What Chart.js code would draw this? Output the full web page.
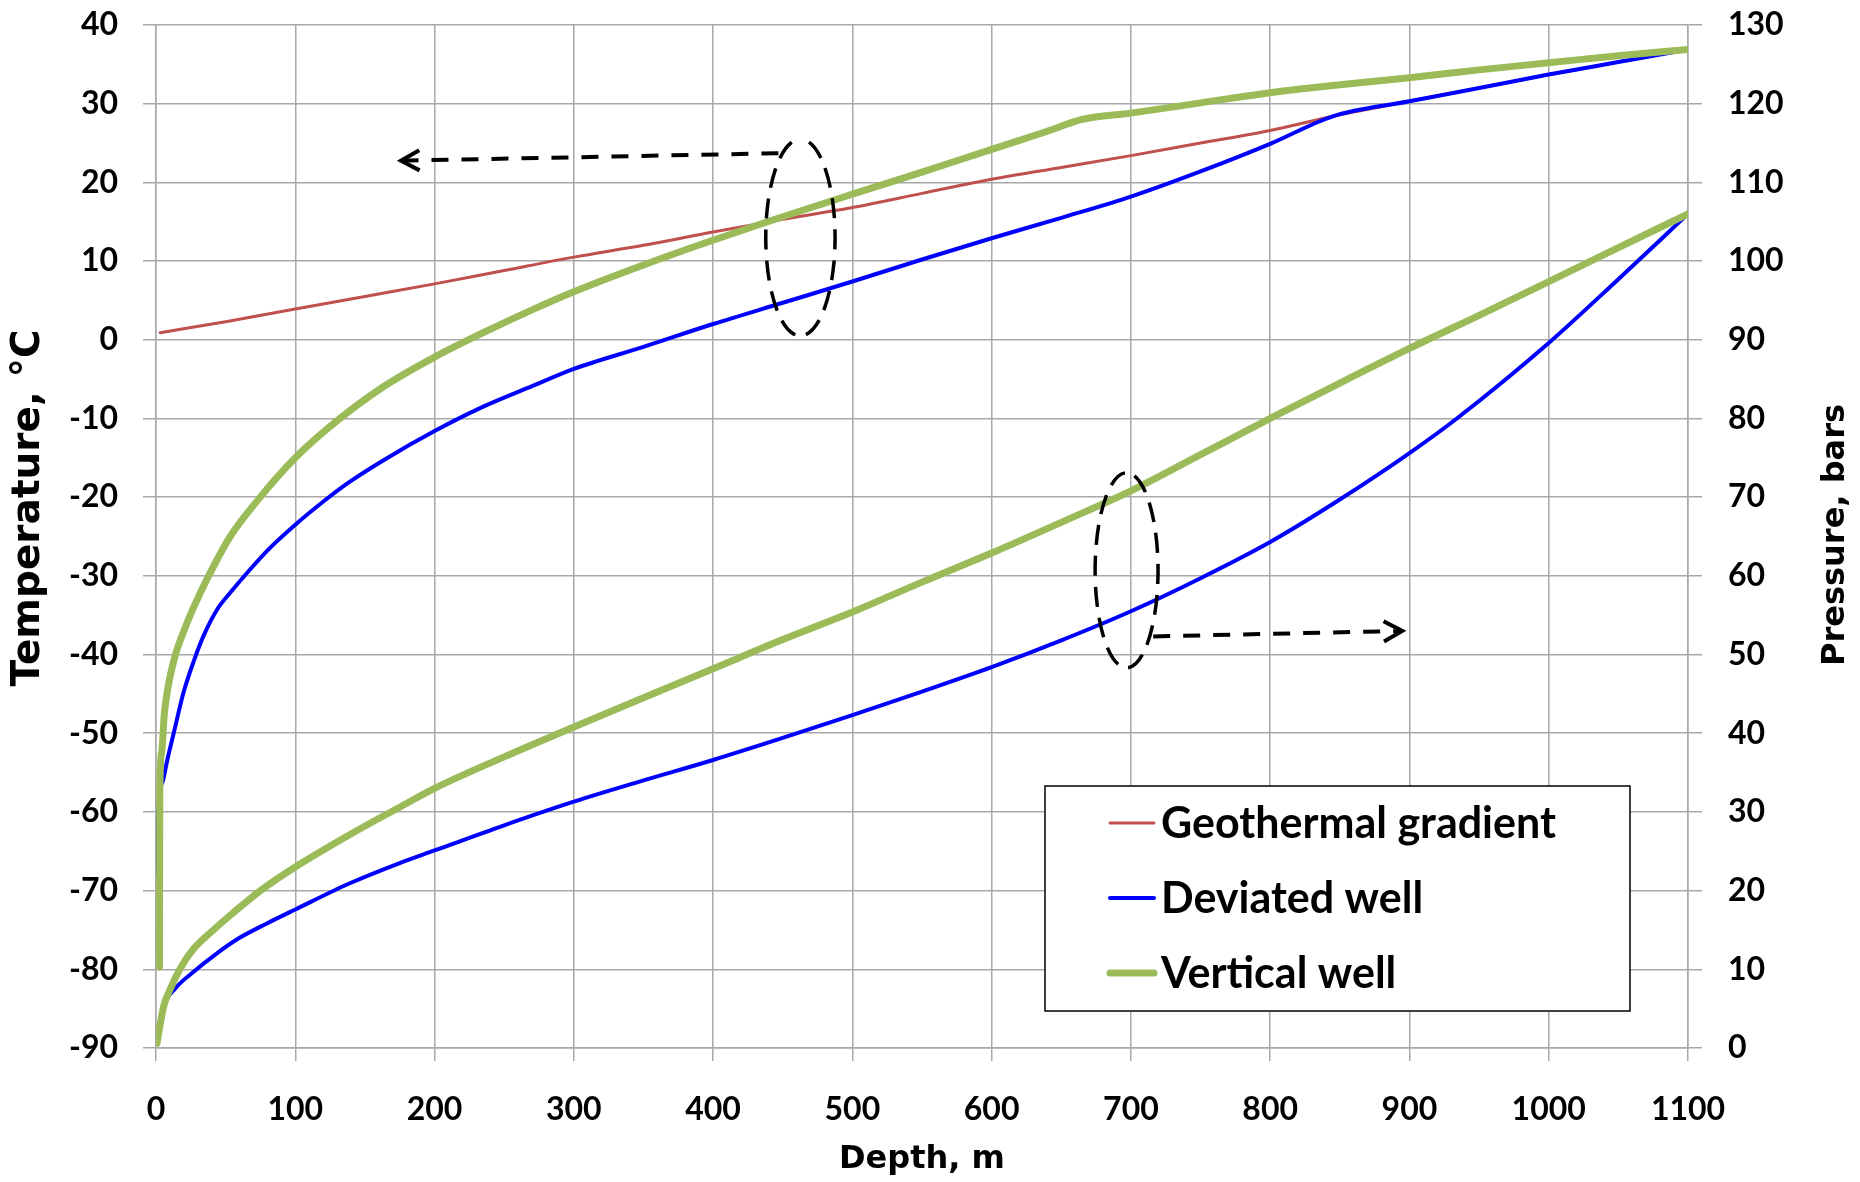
<!DOCTYPE html>
<html>
<head>
<meta charset="utf-8">
<script src="https://cdn.jsdelivr.net/npm/chart.js@4.4.1/dist/chart.umd.min.js"></script>
<style>
html,body{margin:0;padding:0;background:#ffffff;}
#wrap{width:1860px;height:1182px;position:relative;}
</style>
</head>
<body>
<div id="wrap"><canvas id="c" width="1860" height="1182"></canvas></div>
<script>
// ---------------- DATA ----------------
const depthTicks = {min: 0, max: 1100, step: 100};
const tempTicks = {min: -90, max: 40, step: 10};
const presTicks = {min: 0, max: 130, step: 10};

// Geothermal gradient (temperature, °C)
const geoDepth = [3, 50, 100, 150, 200, 250, 300, 350, 400, 450, 500, 550, 600, 650, 700, 750, 800, 850, 900, 950, 1000, 1050, 1100];
const geoTemp  = [0.9, 2.3, 3.9, 5.5, 7.1, 8.8, 10.5, 12.0, 13.7, 15.3, 16.8, 18.6, 20.4, 21.9, 23.4, 25.0, 26.6, 28.6, 30.3, 32.0, 33.7, 35.3, 36.9];

// Deviated well temperature (°C)
const devTempDepth = [0.7, 2, 5, 8, 12.7, 19.8, 27, 34.2, 43.8, 54, 65, 81, 100, 122.7, 139.5, 163.4, 200, 235, 270, 300, 350, 400, 450, 500, 550, 600, 650, 700, 750, 800, 845, 900, 950, 1000, 1050, 1100];
const devTemp      = [-68, -59, -56, -53.5, -50, -44.8, -40.9, -37.6, -34.3, -32.0, -29.7, -26.6, -23.5, -20.2, -18.0, -15.3, -11.6, -8.5, -5.9, -3.7, -0.9, 2.0, 4.7, 7.4, 10.2, 12.9, 15.5, 18.2, 21.4, 24.9, 28.4, 30.3, 32.0, 33.7, 35.3, 36.9];

// Vertical well temperature (°C)
const vertTempDepth = [2.5, 2.7, 4, 6, 9.3, 14, 20, 27, 37.8, 53.3, 72.5, 100, 130, 163, 200, 235, 270, 300, 350, 391, 439, 500, 550, 600, 640, 665, 700, 750, 800, 850, 900, 950, 1000, 1050, 1100];
const vertTemp      = [-79.7, -58, -52.5, -47.5, -43.5, -40.0, -37.0, -34.0, -30.0, -25.0, -20.5, -15.0, -10.3, -6.0, -2.2, 0.9, 3.8, 6.1, 9.5, 12.1, 15.0, 18.5, 21.3, 24.2, 26.5, 28.0, 28.8, 30.1, 31.4, 32.4, 33.3, 34.3, 35.2, 36.1, 36.9];

// Deviated well pressure (bars)
const devPresDepth = [0.5, 5.5, 14, 25.7, 43.5, 60, 79.3, 100, 138.8, 175, 200, 250, 300, 350, 400, 450, 500, 550, 600, 650, 700, 750, 800, 850, 900, 934, 1000, 1050, 1100];
const devPres      = [0.8, 5.2, 7.6, 9.5, 12.0, 14.0, 15.8, 17.6, 20.9, 23.5, 25.1, 28.3, 31.3, 34.0, 36.6, 39.4, 42.3, 45.3, 48.4, 51.8, 55.5, 59.7, 64.3, 69.7, 75.6, 80.0, 89.6, 97.7, 106.0];

// Vertical well pressure (bars)
const vertPresDepth = [0.7, 5.5, 10, 17.4, 27, 40, 55.5, 75, 100, 145, 175, 200, 250, 300, 350, 400, 450, 500, 550, 600, 650, 700, 750, 800, 850, 900, 950, 1000, 1050, 1100];
const vertPres      = [0.6, 5.3, 7.4, 10.1, 12.6, 14.8, 17.2, 20.0, 23.0, 27.7, 30.6, 33.0, 37.0, 40.8, 44.5, 48.2, 51.9, 55.4, 59.2, 62.9, 66.8, 70.8, 75.4, 80.0, 84.5, 88.9, 93.1, 97.4, 101.7, 106.0];

const legendLabels = ['Geothermal gradient', 'Deviated well', 'Vertical well'];
const axisTitles = {x: 'Depth, m', y: 'Temperature, °C', y2: 'Pressure, bars'};

// Annotations (data units): dashed ellipses and dashed arrows
const ellipses = [
  {axis: 'y',  cx: 462.7, cy: 13.0,  rx: 24.9, ry: 12.5},
  {axis: 'y2', cx: 696.9, cy: 60.7,  rx: 22.6, ry: 12.4}
];
const arrows = [
  {axis: 'y',  x1: 446.9, y1: 23.7, x2: 175.9, y2: 22.76},
  {axis: 'y2', x1: 716.0, y1: 52.3, x2: 894.8, y2: 53.0}
];

// ---------------- STYLE ----------------
const GRID = '#A8A8A8';
const RED = '#C0504D', BLUE = '#0000FF', GREEN = '#9BBB59';
const TICK_FONT = {family: 'Lato', size: 32, weight: 'bold'};
const TITLE_FONT_FAMILY = 'DejaVu Sans';

function pts(xs, ys) { return xs.map((x, i) => ({x: x, y: ys[i]})); }
const plainNum = v => String(v);

const annotPlugin = {
  id: 'annot',
  afterDatasetsDraw(chart) {
    const ctx = chart.ctx, xs = chart.scales.x;
    ctx.save();
    ctx.strokeStyle = '#000';
    ctx.lineWidth = 3.5;
    ctx.lineCap = 'butt';
    ellipses.forEach(e => {
      const ys = chart.scales[e.axis];
      const cx = xs.getPixelForValue(e.cx), cy = ys.getPixelForValue(e.cy);
      const rx = Math.abs(xs.getPixelForValue(e.cx + e.rx) - cx);
      const ry = Math.abs(ys.getPixelForValue(e.cy + e.ry) - cy);
      ctx.setLineDash([20, 11]);
      ctx.beginPath();
      ctx.ellipse(cx, cy, rx, ry, 0, -Math.PI / 2 + 0.25, 3 * Math.PI / 2 - 0.05);
      ctx.stroke();
    });
    arrows.forEach(a => {
      const ys = chart.scales[a.axis];
      const x1 = xs.getPixelForValue(a.x1), y1 = ys.getPixelForValue(a.y1);
      const x2 = xs.getPixelForValue(a.x2), y2 = ys.getPixelForValue(a.y2);
      ctx.setLineDash([17, 13]);
      ctx.lineWidth = 4;
      ctx.beginPath();
      ctx.moveTo(x1, y1); ctx.lineTo(x2, y2);
      ctx.stroke();
      const ang = Math.atan2(y2 - y1, x2 - x1);
      const L = 21, A = 0.5;
      ctx.setLineDash([]);
      ctx.lineJoin = 'miter';
      ctx.beginPath();
      ctx.moveTo(x2 - L * Math.cos(ang - A), y2 - L * Math.sin(ang - A));
      ctx.lineTo(x2, y2);
      ctx.lineTo(x2 - L * Math.cos(ang + A), y2 - L * Math.sin(ang + A));
      ctx.stroke();
    });
    ctx.restore();
  }
};

const legendPlugin = {
  id: 'boxLegend',
  afterDraw(chart) {
    const ctx = chart.ctx, a = chart.chartArea;
    const x0 = a.left + 889, y0 = a.top + 761, w = 585, h = 225;
    ctx.save();
    ctx.fillStyle = '#fff';
    ctx.fillRect(x0, y0, w, h);
    ctx.strokeStyle = '#000';
    ctx.lineWidth = 1.5;
    ctx.strokeRect(x0, y0, w, h);
    const rows = [37, 112, 187];
    legendLabels.forEach((lab, i) => {
      const ds = chart.data.datasets.find(d => d.label === lab);
      const yy = y0 + rows[i];
      ctx.strokeStyle = ds.borderColor;
      ctx.lineWidth = ds.borderWidth;
      ctx.lineCap = 'round';
      ctx.beginPath();
      ctx.moveTo(x0 + 65, yy); ctx.lineTo(x0 + 109, yy);
      ctx.stroke();
      ctx.fillStyle = '#000';
      ctx.font = 'bold 43px Lato';
      ctx.textBaseline = 'middle';
      ctx.textAlign = 'left';
      ctx.fillText(lab, x0 + 116, yy + 1);
    });
    // left axis title (reads bottom-to-top)
    ctx.save();
    ctx.translate(29, 508);
    ctx.rotate(-Math.PI / 2);
    ctx.fillStyle = '#000';
    ctx.font = 'bold 39px ' + TITLE_FONT_FAMILY;
    ctx.textAlign = 'center';
    ctx.textBaseline = 'middle';
    ctx.fillText(axisTitles.y, 0, 0);
    ctx.restore();
    // right axis title (reads bottom-to-top)
    ctx.save();
    ctx.translate(1835.5, 535);
    ctx.rotate(-Math.PI / 2);
    ctx.fillStyle = '#000';
    ctx.font = 'bold 32px ' + TITLE_FONT_FAMILY;
    ctx.textAlign = 'center';
    ctx.textBaseline = 'middle';
    ctx.fillText(axisTitles.y2, 0, 0);
    ctx.restore();
    ctx.restore();
  }
};

const ctx = document.getElementById('c').getContext('2d');
new Chart(ctx, {
  type: 'line',
  data: {
    datasets: [
      {label: 'Vertical well', data: pts(vertTempDepth, vertTemp), yAxisID: 'y', borderColor: GREEN, borderWidth: 7, order: 1},
      {label: 'Vertical well (pressure)', data: pts(vertPresDepth, vertPres), yAxisID: 'y2', borderColor: GREEN, borderWidth: 7, order: 1},
      {label: 'Deviated well', data: pts(devTempDepth, devTemp), yAxisID: 'y', borderColor: BLUE, borderWidth: 4, order: 2},
      {label: 'Deviated well (pressure)', data: pts(devPresDepth, devPres), yAxisID: 'y2', borderColor: BLUE, borderWidth: 4, order: 2},
      {label: 'Geothermal gradient', data: pts(geoDepth, geoTemp), yAxisID: 'y', borderColor: RED, borderWidth: 3, order: 3}
    ]
  },
  options: {
    responsive: false,
    animation: false,
    devicePixelRatio: 1,
    elements: {
      point: {radius: 0, hoverRadius: 0},
      line: {fill: false, cubicInterpolationMode: 'monotone', borderCapStyle: 'round', borderJoinStyle: 'round'}
    },
    plugins: {legend: {display: false}, tooltip: {enabled: false}},
    layout: {padding: {top: 25, left: 0, right: 0, bottom: 0}},
    scales: {
      x: {
        type: 'linear', position: 'bottom',
        min: depthTicks.min, max: depthTicks.max,
        ticks: {stepSize: depthTicks.step, font: TICK_FONT, color: '#000', padding: 29, maxRotation: 0, callback: plainNum},
        grid: {color: GRID, lineWidth: 1.5, tickLength: 13},
        border: {color: GRID, width: 1.5},
        title: {display: true, text: axisTitles.x, color: '#000', font: {family: TITLE_FONT_FAMILY, size: 32, weight: 'bold'}, padding: {top: 0, bottom: 3}},
        afterFit(s) { s.height = 134; s.paddingLeft = 0; s.paddingRight = 0; }
      },
      y: {
        type: 'linear', position: 'left',
        min: tempTicks.min, max: tempTicks.max,
        ticks: {stepSize: tempTicks.step, font: TICK_FONT, color: '#000', padding: 25, callback: plainNum},
        grid: {color: GRID, lineWidth: 1.5, tickLength: 13},
        border: {color: GRID, width: 1.5},
        afterFit(s) { s.width = 156; s.paddingTop = 0; s.paddingBottom = 0; }
      },
      y2: {
        type: 'linear', position: 'right',
        min: presTicks.min, max: presTicks.max,
        ticks: {stepSize: presTicks.step, font: TICK_FONT, color: '#000', padding: 26, callback: plainNum},
        grid: {color: GRID, lineWidth: 1.5, tickLength: 14, drawOnChartArea: false},
        border: {color: GRID, width: 1.5},
        afterFit(s) { s.width = 172; s.paddingTop = 0; s.paddingBottom = 0; }
      }
    }
  },
  plugins: [annotPlugin, legendPlugin]
});
</script>
</body>
</html>
